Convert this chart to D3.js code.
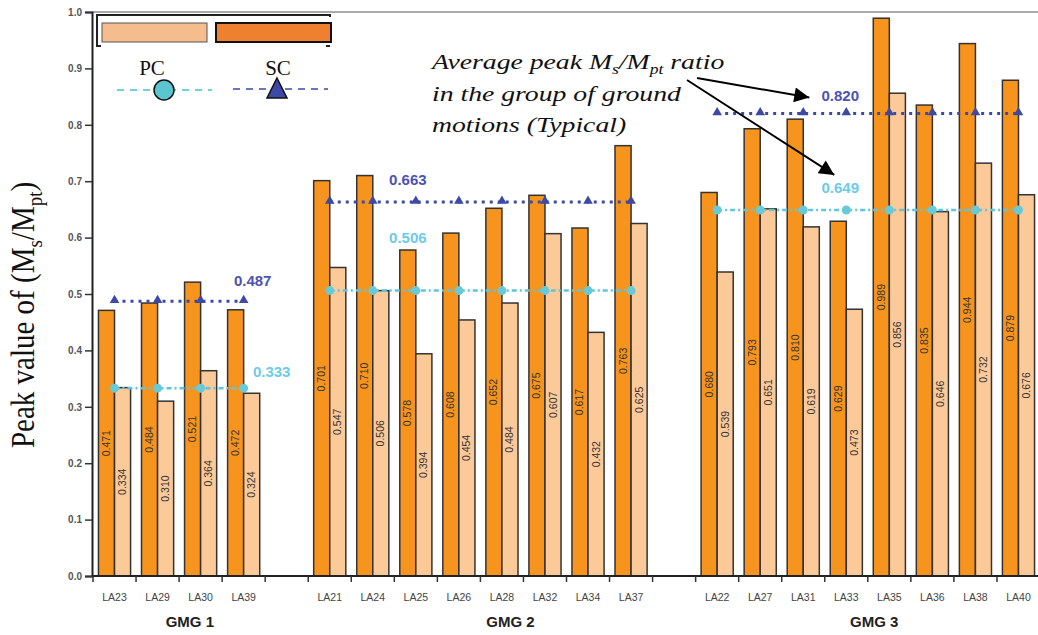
<!DOCTYPE html>
<html><head><meta charset="utf-8">
<script src="https://cdn.jsdelivr.net/npm/d3@7"></script>
<style>body{margin:0;background:#fff}svg{display:block}</style>
</head><body>
<svg id="c" width="1038" height="635"></svg>
<script>
// ---- data ----
const groups = ['GMG 1', 'GMG 2', 'GMG 3'];
const motions = [
  ['LA23', 'LA29', 'LA30', 'LA39'],
  ['LA21', 'LA24', 'LA25', 'LA26', 'LA28', 'LA32', 'LA34', 'LA37'],
  ['LA22', 'LA27', 'LA31', 'LA33', 'LA35', 'LA36', 'LA38', 'LA40']
];
const scValues = [
  [0.471, 0.484, 0.521, 0.472],
  [0.701, 0.710, 0.578, 0.608, 0.652, 0.675, 0.617, 0.763],
  [0.680, 0.793, 0.810, 0.629, 0.989, 0.835, 0.944, 0.879]
];
const pcValues = [
  [0.334, 0.310, 0.364, 0.324],
  [0.547, 0.506, 0.394, 0.454, 0.484, 0.607, 0.432, 0.625],
  [0.539, 0.651, 0.619, 0.473, 0.856, 0.646, 0.732, 0.676]
];
const scAvg = [0.487, 0.663, 0.820];
const pcAvg = [0.333, 0.506, 0.649];
const yTicks = [0, 0.1, 0.2, 0.3, 0.4, 0.5, 0.6, 0.7, 0.8, 0.9, 1.0];

// ---- layout (not data) ----
const avgLabelLayout = [
  {slot: 3, scDx: 9, scDy: -15, pcDx: 28, pcDy: -11},
  {slot: 2, scDx: -8, scDy: -17, pcDx: -8, pcDy: -48},
  {slot: 3, scDx: -6, scDy: -13, pcDx: -6, pcDy: -17}
];
const groupLabelDx = [0.25, 0.7, 0.15];

const C = {
  sc: '#f7941d', pc: '#fcc999', barStroke: '#333',
  scLine: '#3c4aa6', pcLine: '#5ec5df',
  scText: '#4c52b2', pcText: '#6ccbe8'
};

const svg = d3.select('#c');

const slots = [];
groups.forEach((g, gi) => {
  motions[gi].forEach(m => slots.push(m));
  if (gi < groups.length - 1) slots.push('gap' + gi);
});

const x = d3.scaleBand().domain(slots).range([93, 1040]).paddingInner(0).paddingOuter(0);
const bw = x.bandwidth();
const inner = d3.scaleBand().domain(['SC', 'PC']).range([0, bw]).paddingInner(0).paddingOuter(0.34);
const y = d3.scaleLinear().domain([0, 1]).range([576, 12]);

// top frame line
svg.append('line').attr('x1', 92).attr('x2', 1038).attr('y1', y(1)).attr('y2', y(1))
  .attr('stroke', '#aaa').attr('stroke-width', 2);

// bars
const barData = [];
groups.forEach((g, gi) => {
  motions[gi].forEach((m, i) => {
    barData.push({m, s: 'SC', v: scValues[gi][i]});
    barData.push({m, s: 'PC', v: pcValues[gi][i]});
  });
});
const bars = svg.append('g');
bars.selectAll('rect').data(barData).join('rect')
  .attr('x', d => x(d.m) + inner(d.s))
  .attr('width', inner.bandwidth())
  .attr('y', d => y(d.v))
  .attr('height', d => y(0) - y(d.v))
  .attr('fill', d => d.s === 'SC' ? C.sc : C.pc)
  .attr('stroke', C.barStroke).attr('stroke-width', 1.5);
bars.selectAll('text').data(barData).join('text')
  .attr('transform', d => `translate(${x(d.m) + inner(d.s) + inner.bandwidth() / 2 + 3.5},${y(d.v / 2)}) rotate(-90)`)
  .attr('text-anchor', 'middle')
  .attr('font-family', 'Liberation Sans, Arial, sans-serif')
  .attr('font-size', 10.5).attr('fill', '#333')
  .text(d => d3.format('.3f')(d.v));

// average lines
const avgG = svg.append('g');
groups.forEach((g, gi) => {
  const ms = motions[gi];
  const cx = m => x(m) + bw / 2;
  const x1 = cx(ms[0]), x2 = cx(ms[ms.length - 1]);
  avgG.append('line').attr('x1', x1).attr('x2', x2).attr('y1', y(pcAvg[gi])).attr('y2', y(pcAvg[gi]))
    .attr('stroke', C.pcLine).attr('stroke-width', 2.5).attr('stroke-dasharray', '5,3,2,3');
  avgG.selectAll(null).data(ms).join('circle')
    .attr('cx', cx).attr('cy', y(pcAvg[gi])).attr('r', 4.5).attr('fill', '#68c9d9');
  avgG.append('line').attr('x1', x1).attr('x2', x2).attr('y1', y(scAvg[gi])).attr('y2', y(scAvg[gi]))
    .attr('stroke', C.scLine).attr('stroke-width', 3).attr('stroke-dasharray', '3,5');
  avgG.selectAll(null).data(ms).join('path')
    .attr('d', d3.symbol().type(d3.symbolTriangle).size(40))
    .attr('transform', m => `translate(${cx(m)},${y(scAvg[gi]) - 1})`)
    .attr('fill', C.scLine);
  const L = avgLabelLayout[gi];
  const ax = cx(ms[L.slot]);
  avgG.append('text').attr('x', ax + L.scDx).attr('y', y(scAvg[gi]) + L.scDy)
    .attr('text-anchor', 'middle').attr('font-family', 'Liberation Sans, Arial, sans-serif')
    .attr('font-weight', 'bold').attr('font-size', 15).attr('fill', C.scText)
    .text(d3.format('.3f')(scAvg[gi]));
  avgG.append('text').attr('x', ax + L.pcDx).attr('y', y(pcAvg[gi]) + L.pcDy)
    .attr('text-anchor', 'middle').attr('font-family', 'Liberation Sans, Arial, sans-serif')
    .attr('font-weight', 'bold').attr('font-size', 15).attr('fill', C.pcText)
    .text(d3.format('.3f')(pcAvg[gi]));
});

// y axis
const yAxis = svg.append('g').attr('transform', 'translate(92,0)')
  .call(d3.axisLeft(y).tickValues(yTicks).tickFormat(d3.format('.1f')).tickSize(7).tickPadding(3));
yAxis.select('.domain').attr('stroke', '#222').attr('stroke-width', 2);
yAxis.selectAll('.tick line').attr('stroke', '#333').attr('stroke-width', 1.5);
yAxis.selectAll('.tick text').attr('font-family', 'Liberation Sans, Arial, sans-serif')
  .attr('font-weight', 'bold').attr('font-size', 10).attr('fill', '#555');

// x axis
const xg = svg.append('g');
xg.append('line').attr('x1', x.range()[0] - 1).attr('x2', x.range()[1]).attr('y1', y(0)).attr('y2', y(0))
  .attr('stroke', '#222').attr('stroke-width', 2);
const bounds = slots.map(s => x(s)).concat([x.range()[1]]);
xg.selectAll('line.t').data(bounds).join('line').attr('class', 't')
  .attr('x1', d => d).attr('x2', d => d).attr('y1', y(0)).attr('y2', y(0) + 6)
  .attr('stroke', '#333').attr('stroke-width', 1.5);
const allMotions = motions.flat();
xg.selectAll('text.m').data(allMotions).join('text').attr('class', 'm')
  .attr('x', d => x(d) + bw / 2).attr('y', 601)
  .attr('text-anchor', 'middle').attr('font-family', 'Liberation Sans, Arial, sans-serif')
  .attr('font-size', 10.5).attr('fill', '#444').text(d => d);
xg.selectAll('text.g').data(groups).join('text').attr('class', 'g')
  .attr('x', (g, gi) => {
    const ms = motions[gi];
    return (x(ms[0]) + x(ms[ms.length - 1]) + bw) / 2 + groupLabelDx[gi] * bw;
  })
  .attr('y', 627)
  .attr('text-anchor', 'middle').attr('font-family', 'Liberation Sans, Arial, sans-serif')
  .attr('font-weight', 'bold').attr('font-size', 15).attr('fill', '#222').text(d => d);

// y title
const yt = svg.append('text').attr('transform', 'translate(34,315) scale(1.15,1) rotate(-90)')
  .attr('text-anchor', 'middle').attr('font-family', 'Liberation Serif, Times New Roman, serif')
  .attr('font-size', 29).attr('fill', '#111');
yt.append('tspan').text('Peak value of (M');
yt.append('tspan').attr('font-size', 19).attr('dy', 7).text('s');
yt.append('tspan').attr('dy', -7).text('/M');
yt.append('tspan').attr('font-size', 19).attr('dy', 7).text('pt');
yt.append('tspan').attr('dy', -7).text(')');

// legend
const lg = svg.append('g');
lg.append('path').attr('d', 'M101,46 L97,46 L97,15 L330,15 L330,17')
  .attr('fill', 'none').attr('stroke', '#222').attr('stroke-width', 2);
lg.append('line').attr('x1', 326).attr('x2', 330).attr('y1', 46).attr('y2', 46).attr('stroke', '#222').attr('stroke-width', 2);
lg.append('rect').attr('x', 102).attr('y', 23).attr('width', 105).attr('height', 19)
  .attr('fill', '#f5bc8e').attr('stroke', '#555').attr('stroke-width', 1);
lg.append('rect').attr('x', 216).attr('y', 23).attr('width', 115).attr('height', 19)
  .attr('fill', '#ee8030').attr('stroke', '#111').attr('stroke-width', 2);
lg.append('text').attr('x', 152).attr('y', 75).attr('text-anchor', 'middle')
  .attr('font-family', 'Liberation Serif, Times New Roman, serif').attr('font-size', 21).attr('fill', '#111').text('PC');
lg.append('text').attr('x', 278).attr('y', 75).attr('text-anchor', 'middle')
  .attr('font-family', 'Liberation Serif, Times New Roman, serif').attr('font-size', 21).attr('fill', '#111').text('SC');
lg.append('line').attr('x1', 117).attr('x2', 212).attr('y1', 90).attr('y2', 90)
  .attr('stroke', '#3cc4cf').attr('stroke-width', 1.5).attr('stroke-dasharray', '7,6');
lg.append('circle').attr('cx', 164).attr('cy', 90).attr('r', 10)
  .attr('fill', '#5bc6cf').attr('stroke', '#111').attr('stroke-width', 1.5);
lg.append('line').attr('x1', 233).attr('x2', 328).attr('y1', 89).attr('y2', 89)
  .attr('stroke', '#3c4aa6').attr('stroke-width', 1.5).attr('stroke-dasharray', '7,6');
lg.append('path').attr('d', 'M277,78 L287,98 L267,98 Z')
  .attr('fill', '#3c4aa6').attr('stroke', '#111').attr('stroke-width', 1.5);

// annotation
const defs = svg.append('defs');
defs.append('marker').attr('id', 'ah').attr('viewBox', '0 0 10 10').attr('refX', 10).attr('refY', 5)
  .attr('markerWidth', 9).attr('markerHeight', 7.5).attr('orient', 'auto').attr('markerUnits', 'strokeWidth')
  .append('path').attr('d', 'M0,0 L10,5 L0,10 Z').attr('fill', '#000');
const an = svg.append('g').attr('transform', 'translate(432,0) scale(1.26,1)')
  .attr('font-family', 'Liberation Serif, Times New Roman, serif')
  .attr('font-style', 'italic').attr('font-size', 22).attr('fill', '#111');
const t1 = an.append('text').attr('x', 0).attr('y', 69);
t1.append('tspan').text('Average peak M');
t1.append('tspan').attr('font-size', 14).attr('dy', 5).text('s');
t1.append('tspan').attr('dy', -5).text('/M');
t1.append('tspan').attr('font-size', 14).attr('dy', 5).text('pt');
t1.append('tspan').attr('dy', -5).text(' ratio');
an.append('text').attr('x', 0).attr('y', 101).text('in the group of ground');
an.append('text').attr('x', 0).attr('y', 132).text('motions (Typical)');

const g3 = motions[2];
const lab3x = x(g3[avgLabelLayout[2].slot]) + bw / 2 + avgLabelLayout[2].scDx;
svg.append('line').attr('x1', 697).attr('y1', 78).attr('x2', lab3x - 31).attr('y2', y(scAvg[2]) - 16)
  .attr('stroke', '#000').attr('stroke-width', 2).attr('marker-end', 'url(#ah)');
svg.append('line').attr('x1', 687).attr('y1', 80).attr('x2', lab3x - 6).attr('y2', y(pcAvg[2]) - 35)
  .attr('stroke', '#000').attr('stroke-width', 2).attr('marker-end', 'url(#ah)');
</script>
</body></html>
